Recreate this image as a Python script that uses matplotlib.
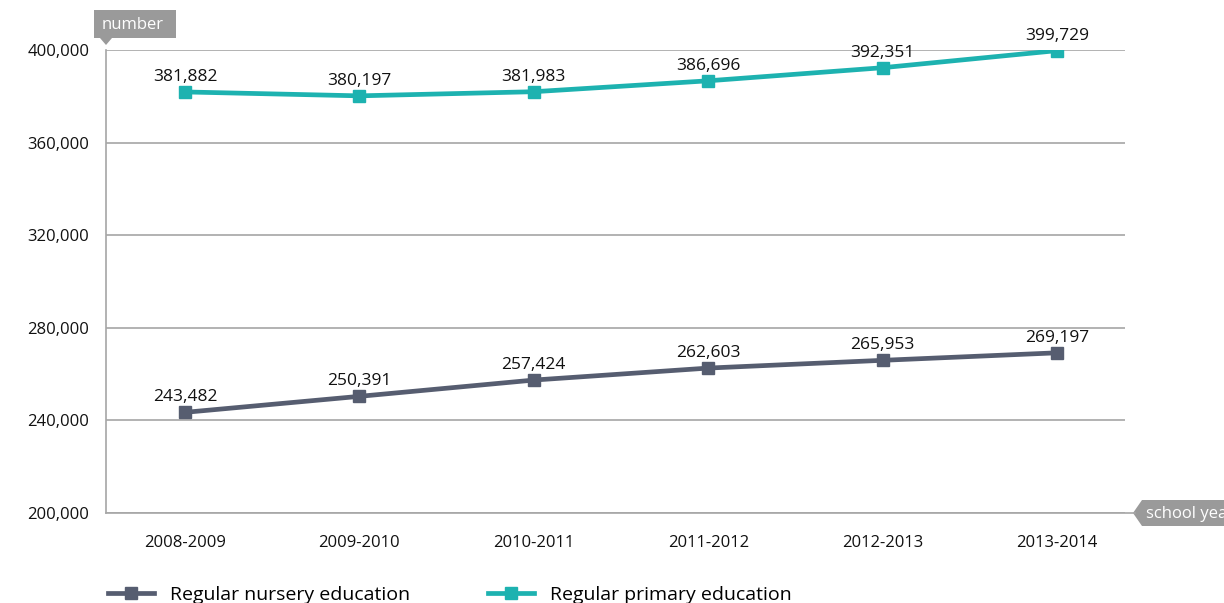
import matplotlib.pyplot as plt
import matplotlib.ticker as mticker
from matplotlib.patches import Polygon
from matplotlib.lines import Line2D

years = ["2008-2009", "2009-2010", "2010-2011", "2011-2012", "2012-2013", "2013-2014"]
nursery = [243482, 250391, 257424, 262603, 265953, 269197]
primary = [381882, 380197, 381983, 386696, 392351, 399729]
yticks = [200000, 240000, 280000, 320000, 360000, 400000]

gray_line = "#565d70"
teal = "#1db2b0"
grid_col = "#a6a6a6"
box_col = "#9a9a9a"

plt.rcParams["font.family"] = ["Open Sans", "DejaVu Sans"]

W, H = 1224, 603
fig = plt.figure(figsize=(W / 100, H / 100), dpi=100)
ax = fig.add_axes([106 / W, 1 - 513 / H, (1125 - 106) / W, (513 - 50) / H])

x = list(range(len(years)))
ax.plot(x, nursery, color=gray_line, lw=3.4, marker="s", ms=9, label="Regular nursery education")
ax.plot(x, primary, color=teal, lw=3.4, marker="s", ms=9, label="Regular primary education")

for xi, v in zip(x, nursery):
    ax.annotate(f"{v:,}", (xi, v), xytext=(0, 5), textcoords="offset points",
                ha="center", va="bottom", fontsize=12.5, color="#111111")
for xi, v in zip(x, primary):
    ax.annotate(f"{v:,}", (xi, v), xytext=(0, 5), textcoords="offset points",
                ha="center", va="bottom", fontsize=12.5, color="#111111")

ax.set_ylim(200000, 400000)
ax.set_xlim(-0.453, 5.39)
ax.set_yticks(yticks)
ax.yaxis.set_major_formatter(mticker.FuncFormatter(lambda v, p: f"{int(v):,}"))
ax.set_xticks(x)
ax.set_xticklabels(years)
ax.tick_params(axis="both", length=0, labelsize=12, colors="#111111")
ax.tick_params(axis="y", pad=12)
ax.tick_params(axis="x", pad=16)
ax.grid(axis="y", color=grid_col, lw=1.2)
ax.set_axisbelow(True)
for s in ["top", "right", "bottom"]:
    ax.spines[s].set_visible(False)
ax.spines["left"].set_color(grid_col)
ax.spines["left"].set_linewidth(1.2)


def px(pts):
    # pixel coords from top-left -> display coords
    return [[a, H - b] for a, b in pts]


# baseline running out to the "school year" tag
fig.add_artist(Line2D([106 / W, 1135 / W], [1 - 513 / H, 1 - 513 / H], color=grid_col, lw=1.2))

# "number" tag above the y axis
fig.patches.append(Polygon(px([[94, 10], [176, 10], [176, 38], [112, 38], [106, 45], [100, 38], [94, 38]]),
                           closed=True, transform=None, facecolor=box_col, edgecolor="none"))
# "school year" tag at the right end of the baseline
fig.patches.append(Polygon(px([[1142, 500], [1224, 500], [1224, 526], [1142, 526], [1133, 513]]),
                           closed=True, transform=None, facecolor=box_col, edgecolor="none"))
fig.text(102 / W, 1 - 25 / H, "number", color="white", fontsize=12, va="center", ha="left")
fig.text(1146 / W, 1 - 514 / H, "school year", color="white", fontsize=12, va="center", ha="left")

fig.legend(loc="lower left", bbox_to_anchor=(90 / W, -0.03), ncol=2, frameon=False,
           fontsize=14, handlelength=2.4, columnspacing=4.0, handletextpad=0.8, markerscale=0.9)

fig.savefig("out.png", dpi=100)
